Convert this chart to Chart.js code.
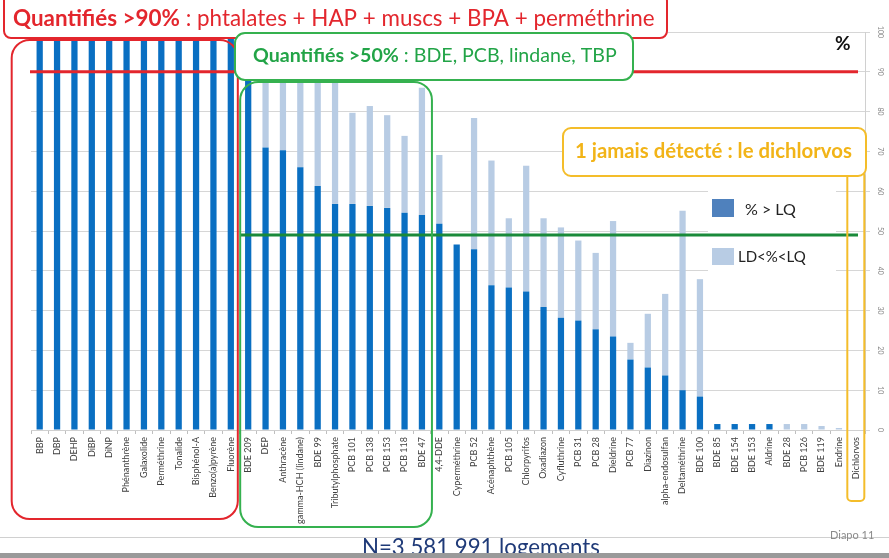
<!DOCTYPE html>
<html>
<head>
<meta charset="utf-8">
<script src="https://cdn.jsdelivr.net/npm/chart.js@4.4.1/dist/chart.umd.min.js"></script>
<style>
  html, body { margin: 0; padding: 0; background: #fff; }
  #wrap { width: 889px; height: 558px; position: relative; }
</style>
</head>
<body>
<div id="wrap"><canvas id="chart" width="889" height="558"></canvas></div>
<script>
// substances, in the order of the slide
const substances = [
    'BBP', 'DBP', 'DEHP', 'DiBP', 'DiNP', 'Phénanthrène', 'Galaxolide', 'Perméthrine', 'Tonalide',
    'Bisphénol-A', 'Benzo(a)pyrène', 'Fluorène',
    'BDE 209', 'DEP', 'Anthracène', 'gamma-HCH (lindane)', 'BDE 99', 'Tributylphosphate',
    'PCB 101', 'PCB 138', 'PCB 153', 'PCB 118', 'BDE 47',
    '4,4-DDE', 'Cyperméthrine', 'PCB 52', 'Acénaphthène', 'PCB 105', 'Chlorpyrifos', 'Oxadiazon',
    'Cyfluthrine', 'PCB 31', 'PCB 28', 'Dieldrine', 'PCB 77', 'Diazinon', 'alpha-endosulfan',
    'Deltaméthrine', 'BDE 100', 'BDE 85', 'BDE 154', 'BDE 153', 'Aldrine', 'BDE 28', 'PCB 126',
    'BDE 119', 'Endrine', 'Dichlorvos'
];

// % > LQ
const aboveLQ = [
    100, 100, 100, 100, 100, 100, 100, 100, 100, 100, 100, 100,
    96, 71, 70.3, 66, 61.3, 56.8, 56.8, 56.3, 55.8, 54.6, 54,
    51.8, 46.6, 45.4, 36.4, 35.8, 34.8, 30.9, 28.2, 27.5, 25.3, 23.5, 17.7, 15.7, 13.7,
    10, 8.4, 1.5, 1.5, 1.5, 1.5, 0, 0, 0, 0, 0
];

// LD < % < LQ (stacked on top)
const betweenLDLQ = [
    0, 0, 0, 0, 0, 0, 0, 0, 0, 0, 0, 0,
    3, 22, 21.7, 24, 27.7, 31.2, 22.9, 25.1, 23.3, 19.3, 32,
    17.3, 0, 33, 31.3, 17.4, 31.6, 22.3, 22.7, 20.1, 19.2, 29, 4.2, 13.5, 20.5,
    45.1, 29.5, 0, 0, 0, 0, 1.5, 1.5, 1, 0.5, 0
];

const yTicks = [0, 10, 20, 30, 40, 50, 60, 70, 80, 90, 100];
const seuil90 = 90;
const seuil50 = 49;

const DARK = '#0a6fc2';
const LIGHT = '#b8cce4';
const RED = '#e3262d';
const GREEN = '#35b14f';
const YELLOW = '#f4bd2a';
const FONT = 'Lato, "Open Sans", sans-serif';

function fitSize(ctx, parts, width) {
    let w = 0;
    parts.forEach(p => {
        ctx.font = (p.bold ? 'bold ' : '') + '100px ' + FONT;
        w += ctx.measureText(p.text).width;
    });
    return 100 * width / w;
}

function drawParts(ctx, parts, x, y, width, color) {
    const size = fitSize(ctx, parts, width);
    ctx.fillStyle = color;
    ctx.textBaseline = 'alphabetic';
    ctx.textAlign = 'left';
    parts.forEach(p => {
        ctx.font = (p.bold ? 'bold ' : '') + size + 'px ' + FONT;
        ctx.fillText(p.text, x, y);
        x += ctx.measureText(p.text).width;
    });
}

function box(ctx, x1, y1, x2, y2, r, color, fill) {
    ctx.beginPath();
    ctx.roundRect(x1, y1, x2 - x1, y2 - y1, r);
    if (fill) {
        ctx.fillStyle = fill;
        ctx.fill();
    }
    ctx.lineWidth = 2;
    ctx.strokeStyle = color;
    ctx.stroke();
}

const slideOverlay = {
    id: 'slideOverlay',
    afterDraw(chart) {
        const ctx = chart.ctx;
        const xs = chart.scales.x;
        const ys = chart.scales.y;
        const area = chart.chartArea;
        ctx.save();

        // rotated y tick labels on the right
        ctx.fillStyle = '#888';
        ctx.font = '7px ' + FONT;
        ctx.textAlign = 'center';
        ctx.textBaseline = 'middle';
        yTicks.forEach(v => {
            ctx.save();
            ctx.translate(area.right + 15, ys.getPixelForValue(v));
            ctx.rotate(Math.PI / 2);
            ctx.fillText(String(v), 0, 0);
            ctx.restore();
        });

        // legend
        ctx.fillStyle = '#fff';
        ctx.fillRect(708, 190, 128, 85);
        ctx.fillStyle = '#4f81bd';
        ctx.fillRect(712, 199, 22, 18);
        ctx.fillStyle = LIGHT;
        ctx.fillRect(712, 248, 22, 17);
        ctx.fillStyle = '#222';
        ctx.font = '16px ' + FONT;
        ctx.textAlign = 'left';
        ctx.textBaseline = 'alphabetic';
        ctx.fillText('% > LQ', 745, 215);
        ctx.font = '15px ' + FONT;
        ctx.fillText('LD<%<LQ', 738, 262);

        // threshold lines
        const xEnd = area.right - 7;
        ctx.lineWidth = 3;
        ctx.strokeStyle = RED;
        ctx.beginPath();
        ctx.moveTo(area.left - 1, ys.getPixelForValue(seuil90));
        ctx.lineTo(xEnd, ys.getPixelForValue(seuil90));
        ctx.stroke();
        ctx.strokeStyle = '#1a8a3a';
        ctx.beginPath();
        ctx.moveTo(xs.getPixelForValue(12) - 8, ys.getPixelForValue(seuil50));
        ctx.lineTo(xEnd, ys.getPixelForValue(seuil50));
        ctx.stroke();

        // group outlines
        box(ctx, xs.getPixelForValue(0) - 28, 40, xs.getPixelForValue(11) + 7, 519, 18, RED);
        box(ctx, xs.getPixelForValue(12) - 8, 82, xs.getPixelForValue(22) + 10, 527, 18, GREEN);
        box(ctx, xs.getPixelForValue(47) - 9, 172, xs.getPixelForValue(47) + 8, 501, 4, YELLOW);

        // text boxes
        box(ctx, 4, -6, 667, 38, 7, RED, '#fff');
        drawParts(ctx, [
            { text: 'Quantifiés >90%', bold: true },
            { text: ' : phtalates + HAP + muscs + BPA + perméthrine', bold: false }
        ], 13, 26, 642, RED);

        box(ctx, 235, 33, 633, 80, 10, GREEN, '#fff');
        drawParts(ctx, [
            { text: 'Quantifiés >50%', bold: true },
            { text: ' : BDE, PCB, lindane, TBP', bold: false }
        ], 253, 62, 364, '#22a447');

        box(ctx, 563, 128, area.right + 1, 176, 8, YELLOW, '#fff');
        drawParts(ctx, [
            { text: '1 jamais détecté : le dichlorvos', bold: true }
        ], 575, 158, 277, '#f2b418');

        ctx.fillStyle = '#111';
        ctx.font = 'bold 19px ' + FONT;
        ctx.textAlign = 'left';
        ctx.fillText('%', 835, 50);

        // slide footer
        ctx.fillStyle = '#d0d0d0';
        ctx.fillRect(0, 537, 889, 1);
        ctx.fillStyle = '#8a8a8a';
        ctx.font = '11px ' + FONT;
        ctx.fillText('Diapo 11', 830, 539);
        drawParts(ctx, [{ text: 'N=3 581 991 logements', bold: false }], 362, 555, 238, '#1f3a78');
        ctx.fillStyle = '#9a9a9a';
        ctx.fillRect(0, 553, 889, 5);

        ctx.restore();
    }
};

const ctx = document.getElementById('chart').getContext('2d');
const chart = new Chart(ctx, {
    type: 'bar',
    data: {
        labels: substances,
        datasets: [{
            label: '% > LQ',
            data: aboveLQ,
            backgroundColor: DARK,
            barPercentage: 0.36,
            categoryPercentage: 1
        }, {
            label: 'LD<%<LQ',
            data: betweenLDLQ,
            backgroundColor: LIGHT,
            barPercentage: 0.36,
            categoryPercentage: 1
        }]
    },
    options: {
        responsive: false,
        animation: false,
        devicePixelRatio: 1,
        layout: { padding: { left: 31, right: 0, top: 32, bottom: 0 } },
        plugins: {
            legend: { display: false },
            tooltip: { enabled: false }
        },
        scales: {
            x: {
                stacked: true,
                grid: {
                    display: true,
                    drawOnChartArea: false,
                    drawTicks: true,
                    tickLength: 4,
                    color: '#bfbfbf'
                },
                border: { color: '#d0d0d0' },
                ticks: {
                    autoSkip: false,
                    minRotation: 90,
                    maxRotation: 90,
                    padding: 3,
                    color: '#404040',
                    font: { size: 9, family: FONT }
                },
                afterFit: (scale) => { scale.height = 128; }
            },
            y: {
                stacked: true,
                position: 'right',
                min: 0,
                max: 100,
                ticks: { stepSize: 10, display: false },
                grid: {
                    color: '#d6d6d6',
                    drawTicks: true,
                    tickLength: 5
                },
                border: { color: '#d0d0d0' },
                afterFit: (scale) => { scale.width = 24; }
            }
        }
    },
    plugins: [slideOverlay]
});
</script>
</body>
</html>
